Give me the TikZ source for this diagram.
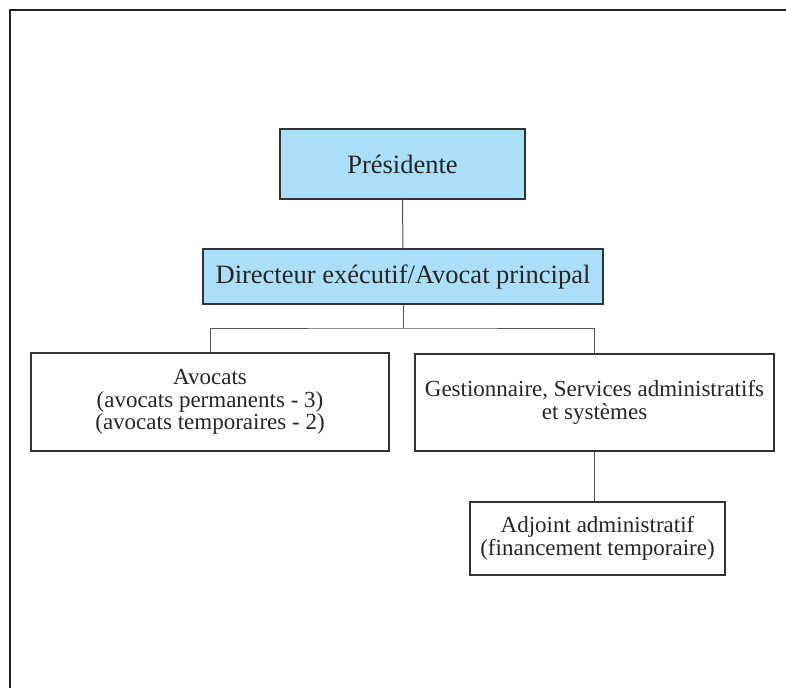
\documentclass[tikz,border=0pt]{standalone}
\usepackage{fontspec}
\setmainfont{Liberation Serif}
\definecolor{boxblue}{HTML}{ABDFF7}
\definecolor{edgegray}{HTML}{333333}
\definecolor{linegray}{HTML}{555555}
\definecolor{framegray}{HTML}{222222}
\tikzset{
  orgbox/.style={draw=edgegray, line width=1.1pt, rectangle, align=center, inner sep=0pt, text=black!85},
  bluebox/.style={orgbox, fill=boxblue, font=\fontsize{26.5}{28}\selectfont},
  whitebox/.style={orgbox, fill=white, font=\fontsize{23}{22.5}\selectfont},
  link/.style={draw=linegray, line width=1pt}
}
\begin{document}
\begin{tikzpicture}[x=1pt,y=-1pt]
\useasboundingbox (0,0) rectangle (786,688);
\draw[framegray, line width=2.7pt] (10,688) -- (10,10) -- (786,10);

\node[bluebox, minimum width=245pt, minimum height=70pt] (pres) at (402.5,164) {Présidente};
\node[bluebox, minimum width=400pt, minimum height=55pt] (dir) at (403,276.5) {Directeur exécutif/Avocat principal};
\node[whitebox, minimum width=358pt, minimum height=98pt] (av) at (210,402) {Avocats\\(avocats permanents - 3)\\(avocats temporaires - 2)};
\node[whitebox, minimum width=359pt, minimum height=97pt] (gest) at (594.5,402.5) {Gestionnaire, Services administratifs\\et systèmes};
\node[whitebox, minimum width=255pt, minimum height=73pt] (adj) at (597.5,538.5) {Adjoint administratif\\(financement temporaire)};

\coordinate (bus) at (403,328);
\draw[link] (pres.south) -- (dir.north);
\draw[link] (dir.south) -- (bus);
\draw[link] (av.north) |- (bus) -| (gest.north);
\draw[link] (gest.south) -- (gest.south |- adj.north);
\end{tikzpicture}
\end{document}
